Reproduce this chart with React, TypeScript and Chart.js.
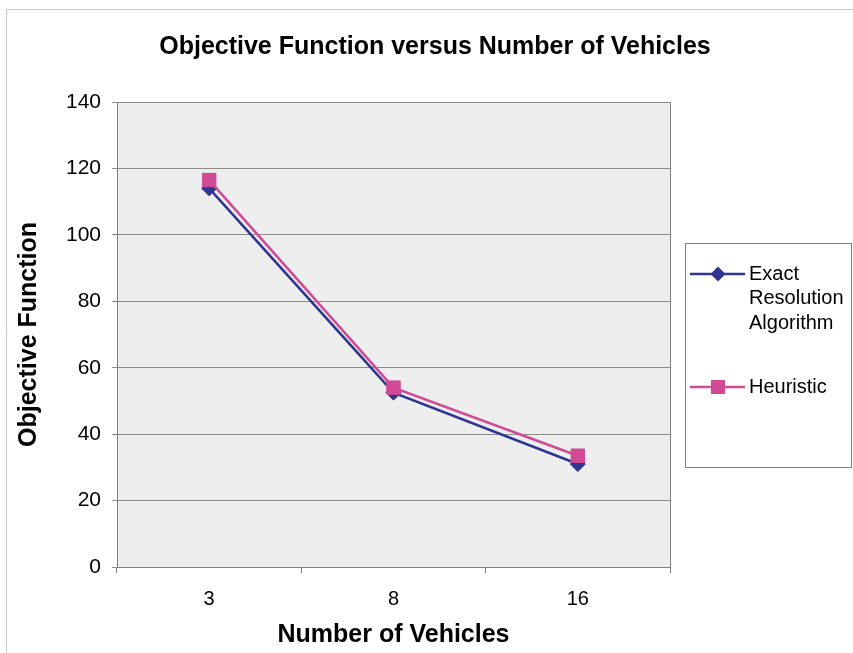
import React, { useEffect, useRef } from "react";
import { Chart, registerables } from "chart.js";

Chart.register(...registerables);

const chartTitle = "Objective Function versus Number of Vehicles";
const categories = ["3", "8", "16"];
const exactValues = [114, 52.5, 31];
const heuristicValues = [116.5, 54, 33.5];
const exactLegendLines = ["Exact", "Resolution", "Algorithm"];
const heuristicLegendLines = ["Heuristic"];
const yTicks = [0, 20, 40, 60, 80, 100, 120, 140];

const FONT = "'Liberation Sans', Arial, sans-serif";
const EXACT_COLOR = "#2E3592";
const HEUR_COLOR = "#D04A96";

export default function App() {
  const ref = useRef<HTMLCanvasElement | null>(null);

  useEffect(() => {
    document.body.style.margin = "0";
    const canvas = ref.current;
    if (!canvas) return;

    const bgPlugin = {
      id: "bgPlugin",
      beforeDraw(chart: any) {
        const { ctx, chartArea, width, height } = chart;
        ctx.save();
        ctx.fillStyle = "#ffffff";
        ctx.fillRect(0, 0, width, height);
        // outer frame
        ctx.strokeStyle = "#C8C8C8";
        ctx.lineWidth = 1;
        ctx.beginPath();
        ctx.moveTo(6.5, height);
        ctx.lineTo(6.5, 9.5);
        ctx.lineTo(width, 9.5);
        ctx.stroke();
        ctx.fillStyle = "#EEEEEE";
        ctx.fillRect(chartArea.left, chartArea.top, chartArea.right - chartArea.left, chartArea.bottom - chartArea.top);
        // chart title
        ctx.fillStyle = "#000000";
        ctx.font = `bold 25px ${FONT}`;
        ctx.textAlign = "center";
        ctx.textBaseline = "alphabetic";
        ctx.fillText(chartTitle, 435, 54);
        ctx.restore();
      },
      beforeDatasetsDraw(chart: any) {
        const { ctx, chartArea } = chart;
        ctx.save();
        ctx.strokeStyle = "#808080";
        ctx.lineWidth = 1;
        const r = Math.round(chartArea.right) + 0.5;
        ctx.beginPath();
        ctx.moveTo(r, chartArea.top);
        ctx.lineTo(r, chartArea.bottom);
        ctx.stroke();
        ctx.restore();
      },
    };

    const legendPlugin = {
      id: "boxLegend",
      afterDraw(chart: any) {
        const { ctx } = chart;
        const boxL = 685.5, boxT = 243.5, boxR = 851.5, boxB = 467.5;
        ctx.save();
        ctx.fillStyle = "#ffffff";
        ctx.fillRect(boxL, boxT, boxR - boxL, boxB - boxT);
        ctx.strokeStyle = "#808080";
        ctx.lineWidth = 1;
        ctx.strokeRect(boxL, boxT, boxR - boxL, boxB - boxT);
        const entries = [
          { ds: chart.data.datasets[0], lines: exactLegendLines, y: 274 },
          { ds: chart.data.datasets[1], lines: heuristicLegendLines, y: 387 },
        ];
        ctx.font = `20px ${FONT}`;
        ctx.textBaseline = "middle";
        ctx.textAlign = "left";
        for (const e of entries) {
          const color = e.ds.borderColor;
          ctx.strokeStyle = color;
          ctx.lineWidth = 2.5;
          ctx.beginPath();
          ctx.moveTo(690, e.y);
          ctx.lineTo(745, e.y);
          ctx.stroke();
          ctx.fillStyle = color;
          ctx.beginPath();
          if (e.ds.pointStyle === "rectRot") {
            const r = 7.5;
            ctx.moveTo(718, e.y - r);
            ctx.lineTo(718 + r, e.y);
            ctx.lineTo(718, e.y + r);
            ctx.lineTo(718 - r, e.y);
            ctx.closePath();
          } else {
            ctx.rect(718 - 7, e.y - 7, 14, 14);
          }
          ctx.fill();
          ctx.fillStyle = "#000000";
          e.lines.forEach((t: string, i: number) => {
            ctx.fillText(t, 749, e.y + i * 24.5);
          });
        }
        ctx.restore();
      },
    };

    const chart = new Chart(canvas, {
      type: "line",
      data: {
        labels: categories,
        datasets: [
          {
            label: exactLegendLines.join(" "),
            data: exactValues,
            borderColor: EXACT_COLOR,
            backgroundColor: EXACT_COLOR,
            borderWidth: 2.5,
            pointStyle: "rectRot",
            pointRadius: 7.5,
            pointBorderWidth: 1,
            order: 1,
          },
          {
            label: heuristicLegendLines.join(" "),
            data: heuristicValues,
            borderColor: HEUR_COLOR,
            backgroundColor: HEUR_COLOR,
            borderWidth: 2.5,
            pointStyle: "rect",
            pointRadius: 9.5,
            pointBorderWidth: 1,
            order: 0,
          },
        ],
      },
      options: {
        responsive: false,
        animation: false,
        devicePixelRatio: 1,
        layout: { padding: { left: 0, right: 183, top: 102, bottom: 0 } },
        plugins: {
          legend: { display: false },
          tooltip: { enabled: false },
          title: { display: false },
        },
        scales: {
          x: {
            offset: true,
            grid: {
              offset: true,
              drawOnChartArea: false,
              drawTicks: true,
              tickLength: 6,
              color: "#808080",
            },
            border: { color: "#808080", width: 1 },
            ticks: {
              color: "#000000",
              font: { family: FONT, size: 20 },
              padding: 14,
              maxRotation: 0,
            },
            title: {
              display: true,
              text: "Number of Vehicles",
              color: "#000000",
              font: { family: FONT, size: 25, weight: "bold", lineHeight: 1.2 },
              padding: { top: 0, bottom: 3 },
            },
            afterFit(scale: any) {
              scale.height = 86;
            },
          },
          y: {
            min: 0,
            max: 140,
            afterBuildTicks(scale: any) {
              scale.ticks = yTicks.map((v) => ({ value: v }));
            },
            grid: {
              color: "#8C8C8C",
              lineWidth: 1,
              drawTicks: true,
              tickLength: 5,
            },
            border: { color: "#808080", width: 1 },
            ticks: {
              color: "#000000",
              font: { family: FONT, size: 21 },
              padding: 11,
            },
            title: {
              display: true,
              text: "Objective Function",
              color: "#000000",
              font: { family: FONT, size: 25, weight: "bold", lineHeight: 1.2 },
              padding: { top: 14, bottom: 0 },
            },
            afterFit(scale: any) {
              scale.width = 117;
            },
          },
        },
      },
      plugins: [bgPlugin, legendPlugin],
    });

    return () => chart.destroy();
  }, []);

  return (
    <div style={{ width: 853, height: 653 }}>
      <canvas ref={ref} width={853} height={653} style={{ display: "block" }} />
    </div>
  );
}
